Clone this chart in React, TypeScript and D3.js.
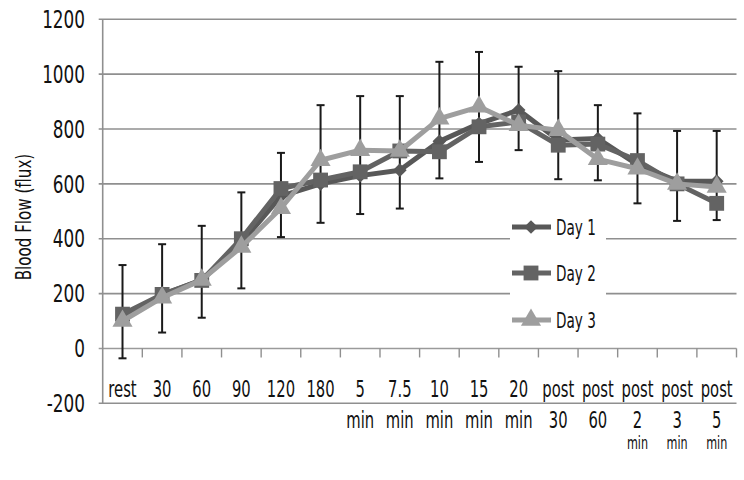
import * as d3 from 'd3'

const categories = [
  'rest', '30', '60', '90', '120', '180', '5 min', '7.5 min', '10 min', '15 min',
  '20 min', 'post 30', 'post 60', 'post 2 min', 'post 3 min', 'post 5 min',
]

// label lines as printed under the axis
const categoryLines: string[][] = [
  ['rest'], ['30'], ['60'], ['90'], ['120'], ['180'], ['5', 'min'], ['7.5', 'min'],
  ['10', 'min'], ['15', 'min'], ['20', 'min'], ['post', '30'], ['post', '60'],
  ['post', '2', 'min'], ['post', '3', 'min'], ['post', '5', 'min'],
]

const day1 = [110, 195, 250, 385, 555, 600, 630, 650, 755, 820, 869, 760, 765, 670, 610, 610]
const day2 = [125, 197, 248, 400, 583, 614, 644, 720, 717, 808, 826, 741, 745, 685, 600, 529]
const day3 = [100, 185, 250, 370, 511, 686, 723, 720, 838, 881, 814, 796, 690, 655, 600, 589]

const errUpper = [304, 380, 447, 569, 713, 887, 920, 920, 1045, 1081, 1027, 1011, 887, 857, 793, 793]
const errLower = [-36, 58, 112, 219, 406, 458, 490, 510, 620, 680, 723, 617, 613, 529, 465, 468]

const yTicks = [-200, 0, 200, 400, 600, 800, 1000, 1200]

const FONT = '"DejaVu Sans Condensed", "DejaVu Sans", sans-serif'

type Series = { name: string; values: number[]; color: string; marker: 'diamond' | 'square' | 'triangle' }

const series: Series[] = [
  { name: 'Day 1', values: day1, color: '#585858', marker: 'diamond' },
  { name: 'Day 2', values: day2, color: '#636363', marker: 'square' },
  { name: 'Day 3', values: day3, color: '#9e9e9e', marker: 'triangle' },
]

const markerPath = (m: Series['marker']) => {
  if (m === 'diamond') return d3.symbol(d3.symbolDiamond2, 120)()
  if (m === 'square') return d3.symbol(d3.symbolSquare, 220)()
  return d3.symbol(d3.symbolTriangle, 175)()
}

// narrow text: the original uses a condensed face, squeeze horizontally
function Txt({ x, y, size, sx, anchor = 'start', dy, rotate, children }: {
  x: number; y: number; size: number; sx: number; anchor?: string; dy?: string; rotate?: boolean; children: React.ReactNode
}) {
  const t = rotate
    ? `translate(${x},${y}) rotate(-90) scale(${sx},1)`
    : `translate(${x},${y}) scale(${sx},1)`
  return (
    <text transform={t} dy={dy} textAnchor={anchor} fontFamily={FONT} fontSize={size} fill="#111">
      {children}
    </text>
  )
}

export default function App() {
  const width = 744
  const height = 480
  const left = 102.7
  const right = 736.5

  const x = d3.scaleBand<string>().domain(categories).range([left, right]).padding(0)
  const y = d3.scaleLinear().domain([-200, 1200]).range([403.3, 19.3])
  const cx = (c: string) => (x(c) ?? 0) + x.bandwidth() / 2

  const line = d3.line<number>()
    .x((_, i) => cx(categories[i]))
    .y((d) => y(d))

  const legendY = [227, 273, 320]

  return (
    <svg width={width} height={height} style={{ position: 'absolute', left: 0, top: 0, background: '#fff' }}>
      {/* gridlines */}
      {yTicks.map((t) => (
        <line key={t} x1={left - 4} x2={right} y1={y(t)} y2={y(t)}
          stroke={t === 0 ? '#9a9a9a' : '#8f8f8f'} strokeWidth={1.6} />
      ))}
      {/* left axis */}
      <line x1={left} x2={left} y1={y(1200)} y2={y(-200)} stroke="#8f8f8f" strokeWidth={1.6} />
      {/* category ticks on zero line */}
      {categories.map((c) => (
        <line key={c} x1={(x(c) ?? 0) + x.bandwidth()} x2={(x(c) ?? 0) + x.bandwidth()}
          y1={y(0)} y2={y(0) + 9} stroke="#8f8f8f" strokeWidth={1.4} />
      ))}

      {/* y tick labels */}
      {yTicks.map((t) => (
        <Txt key={t} x={85} y={y(t)} dy="0.36em" anchor="end" size={24} sx={0.78}>{t}</Txt>
      ))}
      <Txt x={31} y={217} anchor="middle" size={21} sx={0.8} rotate>Blood Flow (flux)</Txt>

      {/* x labels */}
      {categories.map((c, i) => (
        <g key={c}>
          {categoryLines[i].map((s, j) => (
            <Txt key={j} x={cx(c)} y={[397, 428, 449][j]} anchor="middle"
              size={j === 2 ? 17 : 22.5} sx={0.73}>{s}</Txt>
          ))}
        </g>
      ))}

      {/* error bars */}
      {categories.map((c, i) => (
        <g key={c} stroke="#1a1a1a" strokeWidth={2}>
          <line x1={cx(c)} x2={cx(c)} y1={y(errUpper[i])} y2={y(errLower[i])} />
          <line x1={cx(c) - 4} x2={cx(c) + 4} y1={y(errUpper[i])} y2={y(errUpper[i])} />
          <line x1={cx(c) - 4} x2={cx(c) + 4} y1={y(errLower[i])} y2={y(errLower[i])} />
        </g>
      ))}

      {/* series */}
      {series.map((s) => (
        <g key={s.name}>
          <path d={line(s.values) ?? ''} fill="none" stroke={s.color} strokeWidth={5} strokeLinejoin="round" />
          {s.values.map((v, i) => (
            <path key={i} d={markerPath(s.marker) ?? ''} fill={s.color}
              transform={`translate(${cx(categories[i])},${y(v)})`} />
          ))}
        </g>
      ))}

      {/* legend */}
      <rect x={510} y={202} width={96} height={140} fill="#fff" />
      {series.map((s, i) => (
        <g key={s.name}>
          <line x1={512} x2={551} y1={legendY[i]} y2={legendY[i]} stroke={s.color} strokeWidth={5} />
          <path d={markerPath(s.marker) ?? ''} fill={s.color} transform={`translate(531,${legendY[i]})`} />
          <Txt x={556} y={legendY[i]} dy="0.36em" size={21} sx={0.72}>{s.name}</Txt>
        </g>
      ))}
    </svg>
  )
}
